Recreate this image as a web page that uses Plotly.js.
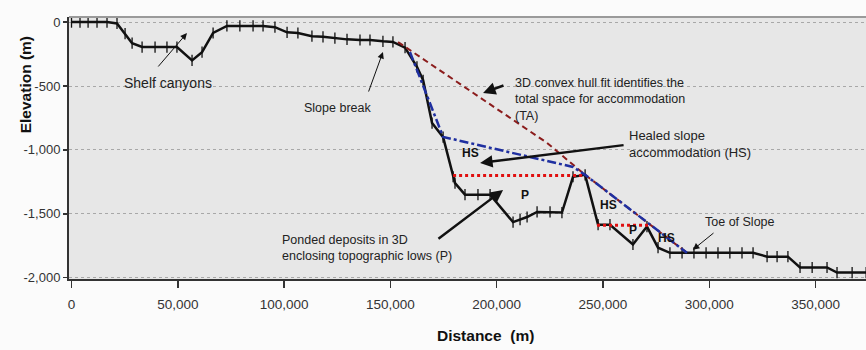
<!DOCTYPE html>
<html>
<head>
<meta charset="utf-8">
<script src="https://cdn.plot.ly/plotly-3.0.1.min.js"></script>
<style>html,body{margin:0;padding:0;background:#fbfbfb;}#chart{width:866px;height:350px;}</style>
</head>
<body>
<div id="chart"></div>
<script>
// Seafloor profile (distance in m, elevation in m)
const distance = [0, 4000, 7800, 12000, 16700, 21400, 25200, 28500, 33200, 39300, 44900, 49600,
  56700, 61400, 66600, 73100, 79200, 85400, 90100, 95700, 101400, 106500, 113100, 118300,
  123900, 129600, 135700, 140400, 146500, 151200, 156900, 162500, 165400, 169600, 174800,
  179500, 180400, 185100, 191200, 196900, 207700, 211000, 214300, 219000, 225100, 230700,
  235900, 241600, 247700, 253300, 264100, 270700, 275900, 281500, 287200, 292800, 298500,
  304100, 309700, 315400, 320600, 327200, 331900, 337000, 342700, 348400, 355400, 360100,
  367200, 373800];
const elevation = [0, 0, 0, 0, 0, -10, -90, -165, -195, -195, -195, -195,
  -300, -235, -85, -30, -30, -30, -30, -40, -80, -85, -110, -115,
  -125, -135, -140, -140, -150, -155, -200, -350, -455, -790, -900,
  -1210, -1260, -1350, -1350, -1350, -1565, -1545, -1525, -1485, -1485, -1490,
  -1210, -1195, -1585, -1585, -1740, -1600, -1765, -1805, -1805, -1805, -1805,
  -1805, -1805, -1805, -1805, -1835, -1835, -1835, -1920, -1920, -1920, -1960,
  -1960, -1960];

// 3D convex hull fit (TA)
const taDist = [153600, 223700, 241600, 289500];
const taElev = [-156, -945, -1195, -1805];

// Healed slope (HS)
const hsDist = [159200, 170100, 174800, 235900, 241600, 289500];
const hsElev = [-234, -688, -898, -1133, -1195, -1805];

// Ponded levels (P)
const p1Dist = [179500, 241600];
const p1Elev = [-1200, -1200];
const p2Dist = [247200, 271200];
const p2Elev = [-1590, -1590];

// Axis ticks
const xTickVals = [0, 50000, 100000, 150000, 200000, 250000, 300000, 350000];
const xTickText = ["0", "50,000", "100,000", "150,000", "200,000", "250,000", "300,000", "350,000"];
const yTickVals = [0, -500, -1000, -1500, -2000];
const yTickText = ["0", "-500", "-1,000", "-1,500", "-2,000"];

const traces = [
  {x: distance, y: elevation, type: 'scatter', mode: 'lines+markers',
   line: {color: '#111', width: 2.5},
   marker: {symbol: 'line-ns', size: 8, line: {color: '#111', width: 1.3}},
   hoverinfo: 'skip'},
  {x: taDist, y: taElev, type: 'scatter', mode: 'lines',
   line: {color: '#8b1c1c', width: 2, dash: '6px,4px'}, hoverinfo: 'skip'},
  {x: hsDist, y: hsElev, type: 'scatter', mode: 'lines',
   line: {color: '#1f2fa0', width: 2.5, dash: 'dashdot'}, hoverinfo: 'skip'},
  {x: p1Dist, y: p1Elev, type: 'scatter', mode: 'lines',
   line: {color: '#e01010', width: 3, dash: 'dot'}, hoverinfo: 'skip'},
  {x: p2Dist, y: p2Elev, type: 'scatter', mode: 'lines',
   line: {color: '#e01010', width: 3, dash: 'dot'}, hoverinfo: 'skip'}
];

const txtFont = {family: 'Liberation Sans, Arial, sans-serif', size: 12.5, color: '#222'};
const boldFont = {family: 'Liberation Sans, Arial, sans-serif', size: 12, color: '#111', weight: 'bold'};
const titleFont = {family: 'Liberation Sans, Arial, sans-serif', size: 15.5, color: '#111'};

function label(x, y, text, font) {
  return {x: x, y: y, xref: 'x', yref: 'y', text: text, showarrow: false,
          xanchor: 'left', yanchor: 'middle', align: 'left', font: font};
}
function blabel(x, y, text) {
  return {x: x, y: y, xref: 'x', yref: 'y', text: '<b>' + text + '</b>', showarrow: false,
          xanchor: 'center', yanchor: 'middle', font: boldFont};
}
function arrow(hx, hy, tx, ty, w, hs) {
  return {x: hx, y: hy, ax: tx, ay: ty, xref: 'x', yref: 'y', axref: 'x', ayref: 'y',
          text: '', showarrow: true, arrowhead: 2, arrowsize: hs, arrowwidth: w, arrowcolor: '#111'};
}

const annotations = [
  label(23800, -477, 'Shelf canyons', Object.assign({}, txtFont, {size: 14})),
  label(108400, -672, 'Slope break', txtFont),
  label(207700, -609, '3D convex hull fit identifies the<br>total space for accommodation<br>(TA)', txtFont),
  label(261300, -953, 'Healed slope<br>accommodation (HS)', Object.assign({}, txtFont, {size: 13})),
  label(98100, -1766, 'Ponded deposits in 3D<br>enclosing topographic lows (P)', txtFont),
  label(297000, -1563, 'Toe of Slope', txtFont),
  blabel(187700, -1023, 'HS'),
  blabel(252400, -1430, 'HS'),
  blabel(280100, -1688, 'HS'),
  blabel(213300, -1352, 'P'),
  blabel(264100, -1625, 'P'),
  arrow(54300, -86, 40200, -359, 1, 1.3),
  arrow(146500, -234, 139500, -555, 1, 1.3),
  arrow(193600, -555, 203900, -492, 2.5, 1),
  arrow(192200, -1102, 260400, -961, 2.5, 1),
  arrow(203000, -1313, 171900, -1703, 2.5, 1),
  arrow(292300, -1781, 302700, -1641, 1, 1.3),
  // axis titles placed as in the reference (offset from the plot centre)
  {xref: 'paper', yref: 'paper', x: -0.055, y: 0.74, text: '<b>Elevation (m)</b>', textangle: -90,
   showarrow: false, xanchor: 'center', yanchor: 'middle', font: titleFont},
  {xref: 'paper', yref: 'paper', x: 0.523, y: -0.215, text: '<b>Distance  (m)</b>',
   showarrow: false, xanchor: 'center', yanchor: 'middle', font: titleFont}
];

const layout = {
  width: 866, height: 350,
  margin: {l: 69, r: 0, t: 17, b: 71, pad: 0},
  paper_bgcolor: '#fbfbfb',
  plot_bgcolor: '#e7e7e7',
  showlegend: false,
  xaxis: {
    range: [-1180, 373730], tickvals: xTickVals, ticktext: xTickText,
    showgrid: false, zeroline: false, showline: true, linecolor: '#333', linewidth: 2,
    ticks: 'outside', ticklen: 7, tickcolor: '#333', tickwidth: 1.5, ticklabelstandoff: 5,
    tickfont: {family: 'Liberation Sans Narrow, Arial Narrow, sans-serif', size: 13.5, color: '#333'}
  },
  yaxis: {
    range: [-2010, 40], tickvals: yTickVals, ticktext: yTickText,
    showgrid: true, gridcolor: '#a8a8a8', griddash: 'dot', gridwidth: 1,
    zeroline: false, showline: true, linecolor: '#333', linewidth: 2,
    ticks: 'outside', ticklen: 4, tickcolor: '#333', tickwidth: 1.5,
    tickfont: {family: 'Liberation Sans Narrow, Arial Narrow, sans-serif', size: 13, color: '#333'}
  },
  shapes: [
    {type: 'line', xref: 'paper', yref: 'paper', x0: 0, x1: 1, y0: 1, y1: 1,
     line: {color: '#9a9a9a', width: 2}}
  ],
  annotations: annotations
};

Plotly.newPlot('chart', traces, layout, {displayModeBar: false, staticPlot: true});
</script>
</body>
</html>
